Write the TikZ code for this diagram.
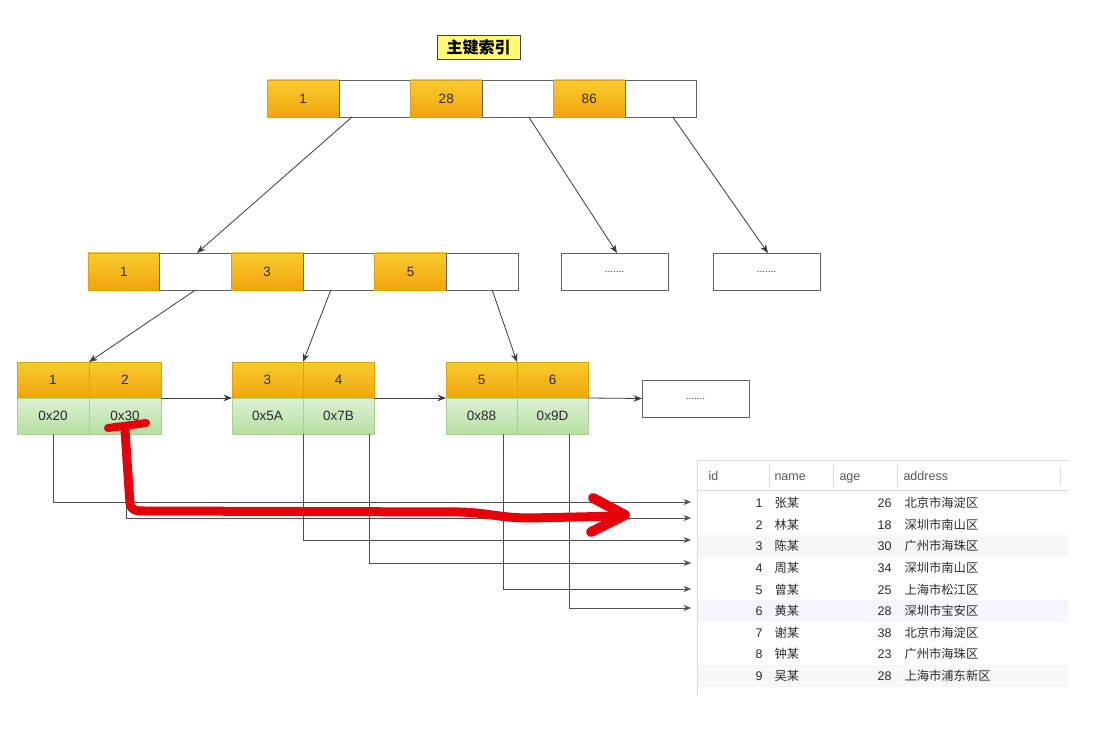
\documentclass[tikz,border=0pt]{standalone}
\usepackage{fontspec}
\setmainfont{Liberation Sans}
\newfontfamily\cjk{Noto Sans CJK SC}
\usetikzlibrary{arrows.meta}
\definecolor{ortop}{HTML}{F9CB2E}
\definecolor{orbot}{HTML}{F0A50C}
\definecolor{orline}{HTML}{E0A010}
\definecolor{grtop}{HTML}{DDF0D6}
\definecolor{grbot}{HTML}{B7DFA0}
\definecolor{grline}{HTML}{A8D08E}
\definecolor{txt}{HTML}{2A2A2A}
\definecolor{edge}{HTML}{3A3A3A}
\definecolor{redpen}{HTML}{E5000A}
\tikzset{
  cellbase/.style={rectangle, inner sep=0pt, outer sep=0pt, minimum height=37pt, text=txt, font=\fontsize{13.5}{15}\selectfont},
  ocell/.style={cellbase, top color=ortop, bottom color=orbot, draw=orline, line width=0.4pt},
  wcell/.style={cellbase, fill=white, draw=edge!80, line width=0.9pt},
  gcell/.style={cellbase, top color=grtop, bottom color=grbot, draw=grline, line width=0.4pt},
  dotbox/.style={cellbase, fill=white, draw=edge!80, line width=0.9pt, minimum width=107pt, font=\fontsize{10}{12}\selectfont},
  tree/.style={draw=edge, line width=0.8pt, -{Stealth[length=8.5pt,width=6.5pt]}},
  link/.style={draw=edge!90, line width=0.7pt, -{Stealth[length=7.5pt,width=6pt]}},
  thead/.style={anchor=base west, text=black!65, font=\fontsize{12.5}{14}\selectfont},
  tnum/.style={anchor=base east, text=txt, font=\fontsize{12.5}{14}\selectfont},
  tcj/.style={anchor=base west, text=txt, font=\cjk\fontsize{12.3}{14}\selectfont},
  tsep/.style={draw=black!14, line width=0.7pt}
}
\begin{document}
\begin{tikzpicture}[x=1pt,y=-1pt]
\useasboundingbox[fill=white] (0,0) rectangle (1111,735);

% title
\node[draw=black!75, fill=yellow!55, line width=0.8pt, minimum width=83pt, minimum height=24pt, inner sep=0pt, font=\cjk\bfseries\fontsize{16}{18}\selectfont] (title) at (478.5,47) {主键索引};

% top row
\node[ocell, minimum width=71.5pt] (t1) at (303.25,98.5) {1};
\node[wcell, minimum width=71.5pt] (t2) at (374.75,98.5) {};
\node[ocell, minimum width=71.5pt] (t3) at (446.25,98.5) {28};
\node[wcell, minimum width=71.5pt] (t4) at (517.75,98.5) {};
\node[ocell, minimum width=71.5pt] (t5) at (589.25,98.5) {86};
\node[wcell, minimum width=71.5pt] (t6) at (660.75,98.5) {};

% middle row
\node[ocell, minimum width=71.7pt] (m1) at (123.8,271.5) {1};
\node[wcell, minimum width=71.7pt] (m2) at (195.5,271.5) {};
\node[ocell, minimum width=71.7pt] (m3) at (267.2,271.5) {3};
\node[wcell, minimum width=71.7pt] (m4) at (338.8,271.5) {};
\node[ocell, minimum width=71.7pt] (m5) at (410.5,271.5) {5};
\node[wcell, minimum width=71.7pt] (m6) at (482.2,271.5) {};
\node[dotbox] (d1) at (614.5,271.5) {.......};
\node[dotbox] (d2) at (766.5,271.5) {.......};

% leaf row
\node[ocell, minimum width=72pt, minimum height=36pt] (l1a) at (53,380) {1};
\node[ocell, minimum width=72pt, minimum height=36pt] (l1b) at (125,380) {2};
\node[gcell, minimum width=72pt, minimum height=36pt] (l1c) at (53,416) {0x20};
\node[gcell, minimum width=72pt, minimum height=36pt] (l1d) at (125,416) {0x30};
\node[ocell, minimum width=71pt, minimum height=36pt] (l2a) at (267.5,380) {3};
\node[ocell, minimum width=71pt, minimum height=36pt] (l2b) at (338.5,380) {4};
\node[gcell, minimum width=71pt, minimum height=36pt] (l2c) at (267.5,416) {0x5A};
\node[gcell, minimum width=71pt, minimum height=36pt] (l2d) at (338.5,416) {0x7B};
\node[ocell, minimum width=71pt, minimum height=36pt] (l3a) at (481.5,380) {5};
\node[ocell, minimum width=71pt, minimum height=36pt] (l3b) at (552.5,380) {6};
\node[gcell, minimum width=71pt, minimum height=36pt] (l3c) at (481.5,416) {0x88};
\node[gcell, minimum width=71pt, minimum height=36pt] (l3d) at (552.5,416) {0x9D};
\node[dotbox] (d3) at (695.5,398.5) {.......};

% tree edges
\draw[tree] ([xshift=-22.7pt]t2.south) -- ([xshift=1.5pt]m2.north);
\draw[tree] ([xshift=11pt]t4.south) -- ([xshift=2.5pt]d1.north);
\draw[tree] ([xshift=12pt]t6.south) -- ([xshift=1.5pt]d2.north);
\draw[tree] (m2.south) -- (l1a.north east);
\draw[tree] ([xshift=-8pt]m4.south) -- (l2a.north east);
\draw[tree] ([xshift=10pt]m6.south) -- (l3a.north east);

% leaf links
\draw[tree] (l1b.south east) -- (l2a.south west);
\draw[tree] (l2b.south east) -- (l3a.south west);
\draw[tree] (l3b.south east) -- (d3.west);

% table
\fill[black!3] (697,535) rectangle (1068,557);
\fill[blue!4] (697,600) rectangle (1068,622);
\fill[black!3] (697,665) rectangle (1068,687);
\draw[tsep] (697,460) -- (1068,460);
\draw[tsep] (697,490) -- (1068,490);
\draw[tsep] (697,460) -- (697,695);
\draw[tsep] (769,466) -- (769,486);
\draw[tsep] (833,466) -- (833,486);
\draw[tsep] (897,466) -- (897,486);
\draw[tsep] (1060,466) -- (1060,486);
\node[thead] (hid) at (705,480.5) {id};
\node[thead] (hname) at (771,480.5) {name};
\node[thead] (hage) at (836,480.5) {age};
\node[thead] (haddr) at (900,480.5) {address};
\foreach \i/\n/\a/\ad/\y in {1/张某/26/北京市海淀区/503, 2/林某/18/深圳市南山区/525, 3/陈某/30/广州市海珠区/546, 4/周某/34/深圳市南山区/568, 5/曾某/25/上海市松江区/590, 6/黄某/28/深圳市宝安区/611, 7/谢某/38/北京市海淀区/633, 8/钟某/23/广州市海珠区/654, 9/吴某/28/上海市浦东新区/676} {
  \node[tnum] (id\i) at (766,\y+4.5) {\i};
  \node[tcj] (nm\i) at (771,\y+4.5) {\n};
  \node[tnum] (ag\i) at (895,\y+4.5) {\a};
  \node[tcj] (ad\i) at (901,\y+4.5) {\ad};
}

% links to rows
\coordinate (r1) at (691,502);
\coordinate (r2) at (691,518);
\coordinate (r3) at (691,540);
\coordinate (r4) at (691,563);
\coordinate (r5) at (691,589);
\coordinate (r6) at (691,608);
\draw[link] (l1c.south) |- (r1);
\draw[link] ([xshift=1pt]l1d.south) |- (r2);
\draw[link] (l2c.south east) |- (r3);
\draw[link] ([xshift=-5pt]l2d.south east) |- (r4);
\draw[link] ([xshift=21.5pt]l3c.south) |- (r5);
\draw[link] ([xshift=16.5pt]l3d.south) |- (r6);

% red annotation
\draw[redpen, line width=8pt, line cap=round, line join=round]
  (108,428) -- (146,423);
\draw[redpen, line width=9pt, line cap=round, line join=round]
  (125,430) .. controls (127,460) and (129,490) .. (130,503)
  .. controls (131,510) and (135,511) .. (145,511)
  -- (460,512) .. controls (490,513) and (500,518) .. (530,518)
  -- (622,516);
\draw[redpen, line width=10pt, line cap=round, line join=round]
  (593,498) -- (625,515) -- (591,532);
\end{tikzpicture}
\end{document}
